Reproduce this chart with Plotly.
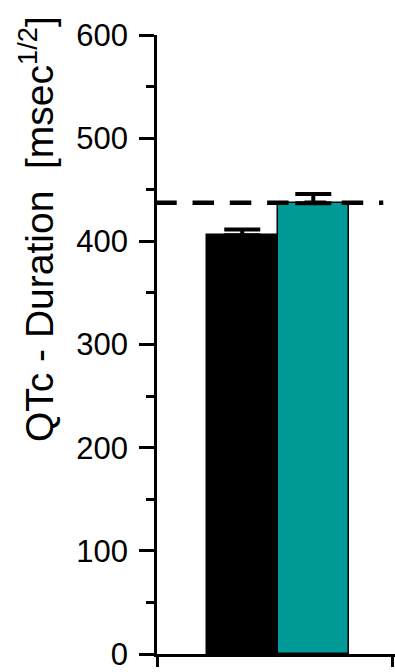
import plotly.graph_objects as go

# Data
groups = ["Group A", "Group B"]
group_pos = [0, 1]
qtc_mean = [406, 437]
qtc_err_up = [5.5, 9]
bar_colors = ["#000000", "#009a97"]
reference_qtc = 437.5
reference_x = [-1.225, 1.985]
y_ticks = [0, 100, 200, 300, 400, 500, 600]
x_edge_ticks = [-1.2, 2.12]

FONT = "Liberation Sans, Arial, Helvetica, sans-serif"

fig = go.Figure()

fig.add_trace(go.Bar(
    x=group_pos,
    y=qtc_mean,
    width=1.0,
    marker=dict(color=bar_colors, line=dict(color="black", width=1.5)),
    error_y=dict(type="data", symmetric=False, array=qtc_err_up,
                 arrayminus=[0, 0], color="black", thickness=4, width=18),
    showlegend=False,
    hoverinfo="skip",
))

fig.add_trace(go.Scatter(
    x=reference_x,
    y=[reference_qtc, reference_qtc],
    mode="lines",
    line=dict(color="black", width=4.5, dash="21.5px,15.8px"),
    showlegend=False,
    hoverinfo="skip",
    cliponaxis=False,
))

fig.update_layout(
    width=395, height=672,
    margin=dict(l=157, r=0, t=35, b=15, pad=0),
    plot_bgcolor="white",
    paper_bgcolor="white",
    bargap=0,
    font=dict(family=FONT, color="black"),
    xaxis=dict(
        range=[-1.2, 2.15],
        showline=True, linecolor="black", linewidth=3,
        showgrid=False, zeroline=False,
        tickvals=x_edge_ticks, showticklabels=False,
        ticks="outside", ticklen=10, tickwidth=2.5, tickcolor="black",
    ),
    yaxis=dict(
        range=[0, 600],
        showline=True, linecolor="black", linewidth=2.5,
        showgrid=False, zeroline=False,
        tickvals=y_ticks,
        ticks="outside", ticklen=15, tickwidth=2.5, tickcolor="black",
        tickfont=dict(family=FONT, size=31, color="black"),
        ticklabelstandoff=5,
        ticklabeloverflow="allow",
        minor=dict(dtick=50, ticks="outside", ticklen=8, tickwidth=2.5,
                   tickcolor="black", showgrid=False),
    ),
    annotations=[dict(
        text="QTc - Duration  [msec<sup>1/2</sup>]",
        textangle=-90,
        xref="paper", yref="paper",
        x=(36 - 157) / 238, y=(657 - 230) / 622,
        xanchor="center", yanchor="middle",
        showarrow=False,
        font=dict(family=FONT, size=39, color="black"),
    )],
)

fig.write_html("out.html")
